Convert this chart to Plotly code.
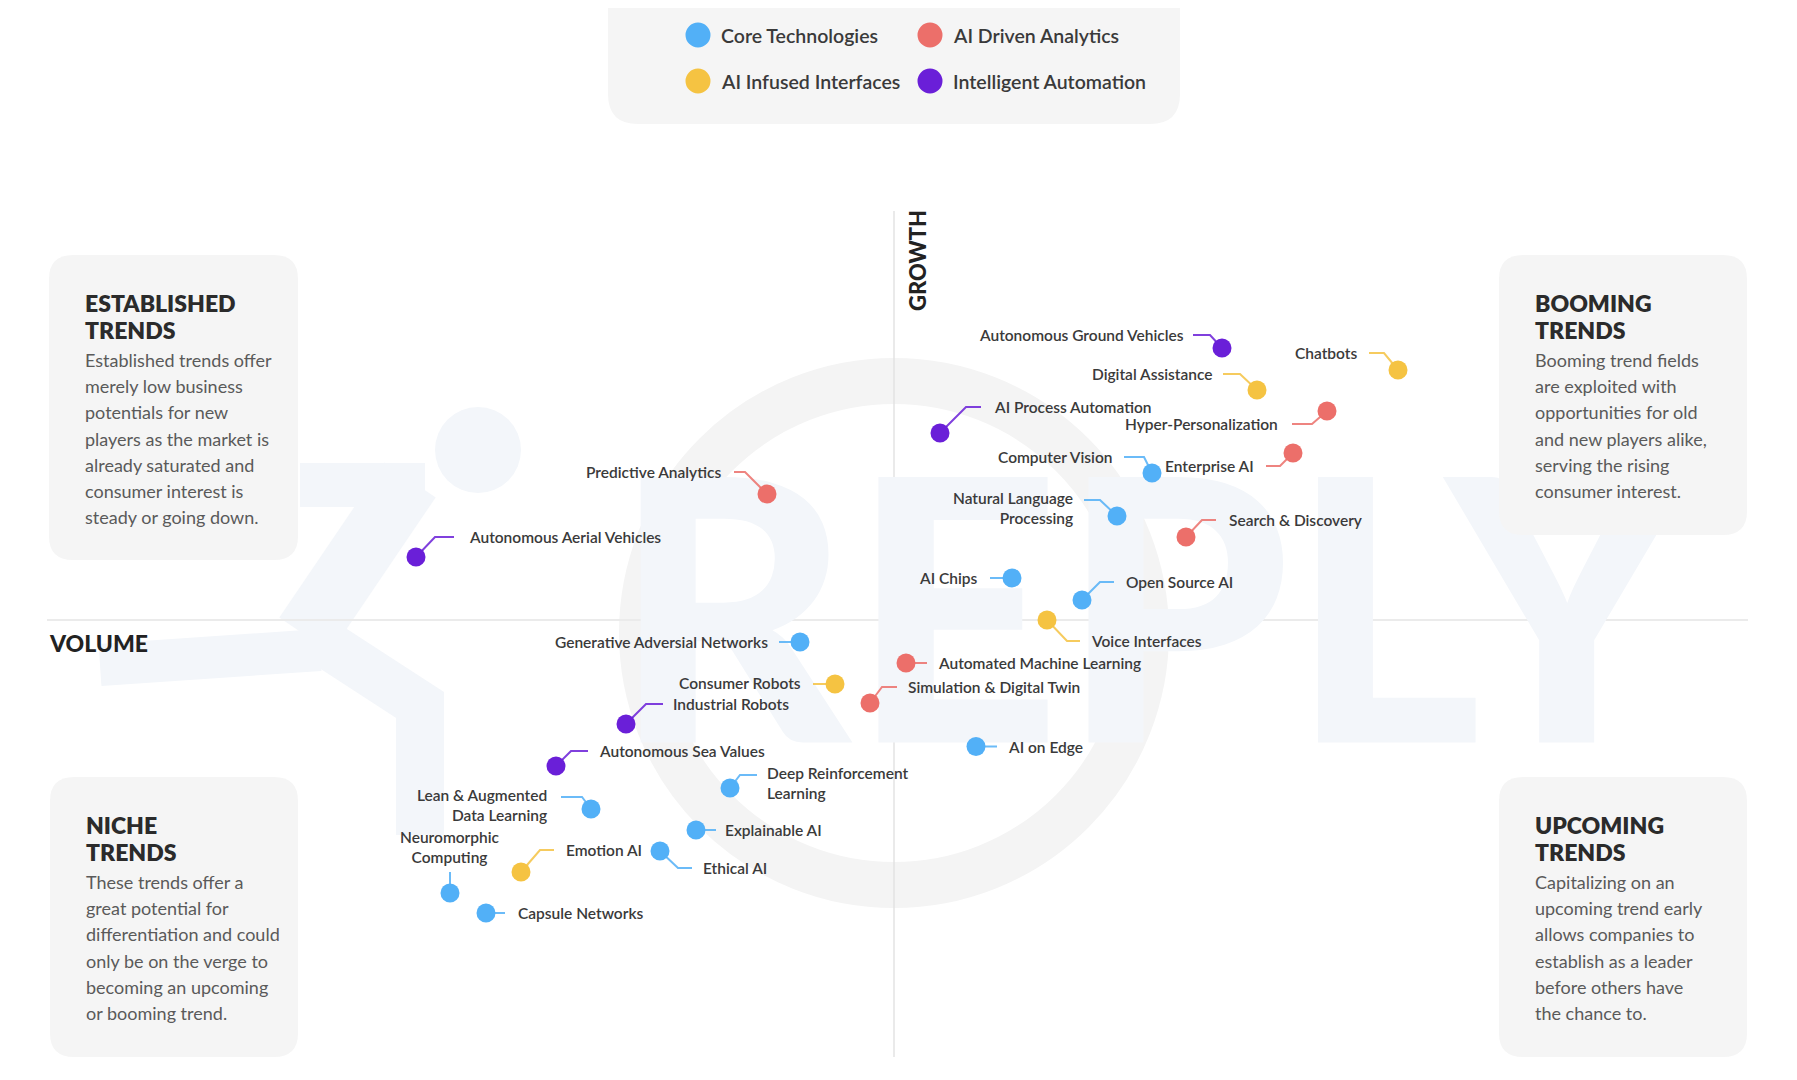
import plotly.graph_objects as go

W, H = 1797, 1080
OX, OY = 8, 8          # page offset of the plot inside the browser window
CX, CY = 894 - OX, 620 - OY   # pixel position of the origin (axes crossing)
PX = 10.0              # pixels per data unit

# ---------------- data ----------------
names = [
    "Autonomous Ground Vehicles", "Chatbots", "Digital Assistance", "AI Process Automation",
    "Hyper-Personalization", "Computer Vision", "Enterprise AI", "Natural Language<br>Processing",
    "Search & Discovery", "Predictive Analytics", "Autonomous Aerial Vehicles", "AI Chips",
    "Open Source AI", "Voice Interfaces", "Generative Adversial Networks", "Automated Machine Learning",
    "Consumer Robots", "Simulation & Digital Twin", "Industrial Robots", "AI on Edge",
    "Autonomous Sea Values", "Deep Reinforcement<br>Learning", "Lean & Augmented<br>Data Learning",
    "Explainable AI", "Emotion AI", "Ethical AI", "Neuromorphic<br>Computing", "Capsule Networks",
]
category = [
    "Intelligent Automation", "AI Infused Interfaces", "AI Infused Interfaces", "Intelligent Automation",
    "AI Driven Analytics", "Core Technologies", "AI Driven Analytics", "Core Technologies",
    "AI Driven Analytics", "AI Driven Analytics", "Intelligent Automation", "Core Technologies",
    "Core Technologies", "AI Infused Interfaces", "Core Technologies", "AI Driven Analytics",
    "AI Infused Interfaces", "AI Driven Analytics", "Intelligent Automation", "Core Technologies",
    "Intelligent Automation", "Core Technologies", "Core Technologies",
    "Core Technologies", "AI Infused Interfaces", "Core Technologies", "Core Technologies", "Core Technologies",
]
volume = [32.8, 50.4, 36.3, 4.6, 43.3, 25.8, 39.9, 22.3, 29.2, -12.7, -47.8, 11.8, 18.8, 15.3,
          -9.4, 1.2, -5.9, -2.4, -26.8, 8.2, -33.8, -16.4, -30.3, -19.8, -37.3, -23.4, -44.4, -40.8]
growth = [27.2, 25.0, 23.0, 18.7, 20.9, 14.7, 16.7, 10.4, 8.3, 12.6, 6.3, 4.2, 2.0, 0.0,
          -2.2, -4.3, -6.4, -8.3, -10.4, -12.65, -14.6, -16.8, -18.9, -21.0, -25.2, -23.1, -27.3, -29.3]

categories = ["Core Technologies", "AI Driven Analytics", "AI Infused Interfaces", "Intelligent Automation"]

# ---------------- styles / layout helpers ----------------
colors = {
    "Core Technologies": "#52B0F7",
    "AI Driven Analytics": "#EC6F6A",
    "AI Infused Interfaces": "#F5C342",
    "Intelligent Automation": "#6A1FD8",
}
# connector layout per label (pixel offsets from the dot: elbow, end, label anchor, alignment)
label_layout = [
    ((-12, -13), (-29, -13), (-36, -13), "right"),
    ((-14, -17), (-29, -17), (-39, -17), "right"),
    ((-17, -16), (-34, -16), (-43, -16), "right"),
    ((26, -26), (41, -26), (52, -26), "left"),
    ((-15, 13), (-35, 13), (-47, 13), "right"),
    ((-8, -16), (-28, -16), (-38, -16), "right"),
    ((-13, 13), (-27, 13), (-37, 13), "right"),
    ((-17, -16), (-33, -16), (-42, -8), "right"),
    ((16, -17), (30, -17), (41, -17), "left"),
    ((-22, -22), (-33, -22), (-44, -22), "right"),
    ((19, -20), (38, -20), (51, -20), "left"),
    (None, (-22, 0), (-32, 0), "right"),
    ((18, -18), (32, -18), (42, -18), "left"),
    ((20, 21), (33, 21), (42, 21), "left"),
    (None, (-21, 0), (-30, 0), "right"),
    (None, (21, 0), (30, 0), "left"),
    (None, (-22, 0), (-32, -1), "right"),
    ((12, -16), (27, -16), (36, -16), "left"),
    ((20, -20), (37, -20), (45, -20), "left"),
    (None, (21, 0), (30, 0), "left"),
    ((15, -15), (32, -15), (41, -15), "left"),
    ((10, -13), (27, -13), (35, -5), "left"),
    ((-9, -12), (-30, -12), (-42, -4), "right"),
    (None, (20, 0), (27, 0), "left"),
    ((19, -22), (33, -22), (43, -22), "left"),
    ((18, 17), (32, 17), (41, 17), "left"),
    (None, (0, -21), (0, -46), "center"),
    (None, (19, 0), (30, 0), "left"),
]

FONT = "Lato, 'Open Sans', sans-serif"
LABEL_COLOR = "#3a3a3a"


def px_x(v):
    return (v - OX) / W


def px_y(v):
    return 1 - (v - OY) / H


def rounded_rect(x0, y0, x1, y1, r):
    X, Y = px_x, px_y
    return (f"M {X(x0 + r)},{Y(y0)} L {X(x1 - r)},{Y(y0)} Q {X(x1)},{Y(y0)} {X(x1)},{Y(y0 + r)} "
            f"L {X(x1)},{Y(y1 - r)} Q {X(x1)},{Y(y1)} {X(x1 - r)},{Y(y1)} "
            f"L {X(x0 + r)},{Y(y1)} Q {X(x0)},{Y(y1)} {X(x0)},{Y(y1 - r)} "
            f"L {X(x0)},{Y(y0 + r)} Q {X(x0)},{Y(y0)} {X(x0 + r)},{Y(y0)} Z")


def poly_path(pts):
    return "M " + " L ".join(f"{px_x(a)},{px_y(b)}" for a, b in pts)


def dx_data(pxv):
    return (pxv - OX - CX) / PX


def dy_data(pyv):
    return (CY - (pyv - OY)) / PX


fig = go.Figure()
shapes = []
annotations = []

# ---------------- faint background watermark ----------------
WM_BLUE = "#F3F6FA"
WM_GRAY = "#F4F4F4"
shapes.append(dict(type="circle", xref="paper", yref="paper", layer="below",
                   x0=px_x(894 - 252), x1=px_x(894 + 252), y0=px_y(633 + 252), y1=px_y(633 - 252),
                   line=dict(color=WM_GRAY, width=46), fillcolor="rgba(0,0,0,0)"))
shapes.append(dict(type="circle", xref="paper", yref="paper", layer="below",
                   x0=px_x(478 - 43), x1=px_x(478 + 43), y0=px_y(450 + 43), y1=px_y(450 - 43),
                   line=dict(width=0), fillcolor=WM_BLUE))
for pts, wdt in [
    ([(300, 485), (425, 485)], 44),
    ([(410, 480), (305, 635)], 62),
    ([(320, 650), (100, 665)], 42),
    ([(320, 640), (420, 705), (420, 835)], 48),
]:
    shapes.append(dict(type="path", xref="paper", yref="paper", layer="below",
                       path=poly_path(pts), line=dict(color=WM_BLUE, width=wdt)))

fig.add_trace(go.Scatter(x=[dx_data(1150)], y=[dy_data(651)], mode="text", text=["REPLY"],
                         textfont=dict(family="Lato, sans-serif", size=366, color=WM_BLUE, weight=900),
                         hoverinfo="skip", showlegend=False))

# ---------------- axes lines ----------------
shapes.append(dict(type="line", xref="x", yref="y", layer="below",
                   x0=0, x1=0, y0=dy_data(211), y1=dy_data(1057),
                   line=dict(color="#E3E3E3", width=1.5)))
shapes.append(dict(type="line", xref="x", yref="y", layer="below",
                   x0=dx_data(47), x1=dx_data(1748), y0=0, y1=0,
                   line=dict(color="#EBEBEB", width=2)))

# ---------------- boxes ----------------
BOX = "#F5F5F5"
boxes = [
    (49, 255, 298, 560, ["ESTABLISHED", "TRENDS"],
     ["Established trends offer", "merely low business", "potentials for new", "players as the market is",
      "already saturated and", "consumer interest is", "steady or going down."]),
    (1499, 255, 1747, 535, ["BOOMING", "TRENDS"],
     ["Booming trend fields", "are exploited with", "opportunities for old", "and new players alike,",
      "serving the rising", "consumer interest."]),
    (50, 777, 298, 1057, ["NICHE", "TRENDS"],
     ["These trends offer a", "great potential for", "differentiation and could", "only be on the verge to",
      "becoming an upcoming", "or booming trend."]),
    (1499, 777, 1747, 1057, ["UPCOMING", "TRENDS"],
     ["Capitalizing on an", "upcoming trend early", "allows companies to", "establish as a leader",
      "before others have", "the chance to."]),
]
for x0, y0, x1, y1, title, body in boxes:
    shapes.append(dict(type="path", xref="paper", yref="paper", layer="above",
                       path=rounded_rect(x0, y0, x1, y1, 24), fillcolor=BOX, line=dict(width=0)))
    tx = x0 + 34
    for i, t in enumerate(title):
        annotations.append(dict(xref="paper", yref="paper", x=px_x(tx), y=px_y(y0 + 48 + i * 26.7),
                                text=t, showarrow=False, xanchor="left", yanchor="middle",
                                font=dict(family=FONT, size=23, color="#2B2B2B", weight=800)))
    for i, t in enumerate(body):
        annotations.append(dict(xref="paper", yref="paper", x=px_x(tx), y=px_y(y0 + 105 + i * 26.2),
                                text=t, showarrow=False, xanchor="left", yanchor="middle",
                                font=dict(family=FONT, size=18, color="#5A5A5A")))

# ---------------- legend box ----------------
shapes.append(dict(type="path", xref="paper", yref="paper", layer="above",
                   path=rounded_rect(608, -60, 1180, 124, 30), fillcolor=BOX, line=dict(width=0)))
leg_pos = {
    "Core Technologies": (698, 35),
    "AI Driven Analytics": (930, 35),
    "AI Infused Interfaces": (698, 81),
    "Intelligent Automation": (930, 81),
}
for c in categories:
    lx, ly = leg_pos[c]
    shapes.append(dict(type="circle", xref="paper", yref="paper", layer="above",
                       x0=px_x(lx - 12.5), x1=px_x(lx + 12.5), y0=px_y(ly + 12.5), y1=px_y(ly - 12.5),
                       fillcolor=colors[c], line=dict(width=0)))
    annotations.append(dict(xref="paper", yref="paper", x=px_x(lx + 21), y=px_y(ly), text=c,
                            showarrow=False, xanchor="left", yanchor="middle",
                            font=dict(family=FONT, size=19.5, color="#3A3A3A", weight=600)))

# ---------------- connectors ----------------
for i, nm in enumerate(names):
    elbow, end, lab, align = label_layout[i]
    col = colors[category[i]]
    pts = [(0, 0)] + ([elbow] if elbow else []) + [end]
    xs = [volume[i] + dx / PX for dx, dy in pts]
    ys = [growth[i] - dy / PX for dx, dy in pts]
    fig.add_trace(go.Scatter(x=xs, y=ys, mode="lines", line=dict(color=col, width=2),
                             opacity=0.85, hoverinfo="skip", showlegend=False))

# ---------------- dots per category ----------------
for c in categories:
    idx = [i for i, cc in enumerate(category) if cc == c]
    fig.add_trace(go.Scatter(
        x=[volume[i] for i in idx], y=[growth[i] for i in idx], mode="markers", name=c,
        marker=dict(size=19, color=colors[c], line=dict(width=0)),
        text=[names[i].replace("<br>", " ") for i in idx], hoverinfo="text", showlegend=False))

# ---------------- labels ----------------
for i, nm in enumerate(names):
    elbow, end, lab, align = label_layout[i]
    annotations.append(dict(x=volume[i] + lab[0] / PX, y=growth[i] - lab[1] / PX, xref="x", yref="y",
                            text=nm, showarrow=False, xanchor=align, yanchor="middle", align=align,
                            font=dict(family=FONT, size=15.5, color=LABEL_COLOR, weight=600)))

# ---------------- axis titles ----------------
annotations.append(dict(xref="paper", yref="paper", x=px_x(917), y=px_y(261), text="GROWTH",
                        textangle=-90, showarrow=False, xanchor="center", yanchor="middle",
                        font=dict(family=FONT, size=22, color="#222222", weight=900)))
annotations.append(dict(xref="paper", yref="paper", x=px_x(47), y=px_y(643), text="VOLUME",
                        showarrow=False, xanchor="left", yanchor="middle",
                        font=dict(family=FONT, size=23, color="#222222", weight=900)))

fig.update_layout(
    width=W, height=H,
    margin=dict(l=0, r=0, t=0, b=0),
    paper_bgcolor="white", plot_bgcolor="rgba(0,0,0,0)",
    xaxis=dict(range=[-CX / PX, (W - CX) / PX], visible=False, fixedrange=True),
    yaxis=dict(range=[(CY - H) / PX, CY / PX], visible=False, fixedrange=True),
    shapes=shapes, annotations=annotations, showlegend=False,
    font=dict(family=FONT),
)

fig.write_html("out.html")
